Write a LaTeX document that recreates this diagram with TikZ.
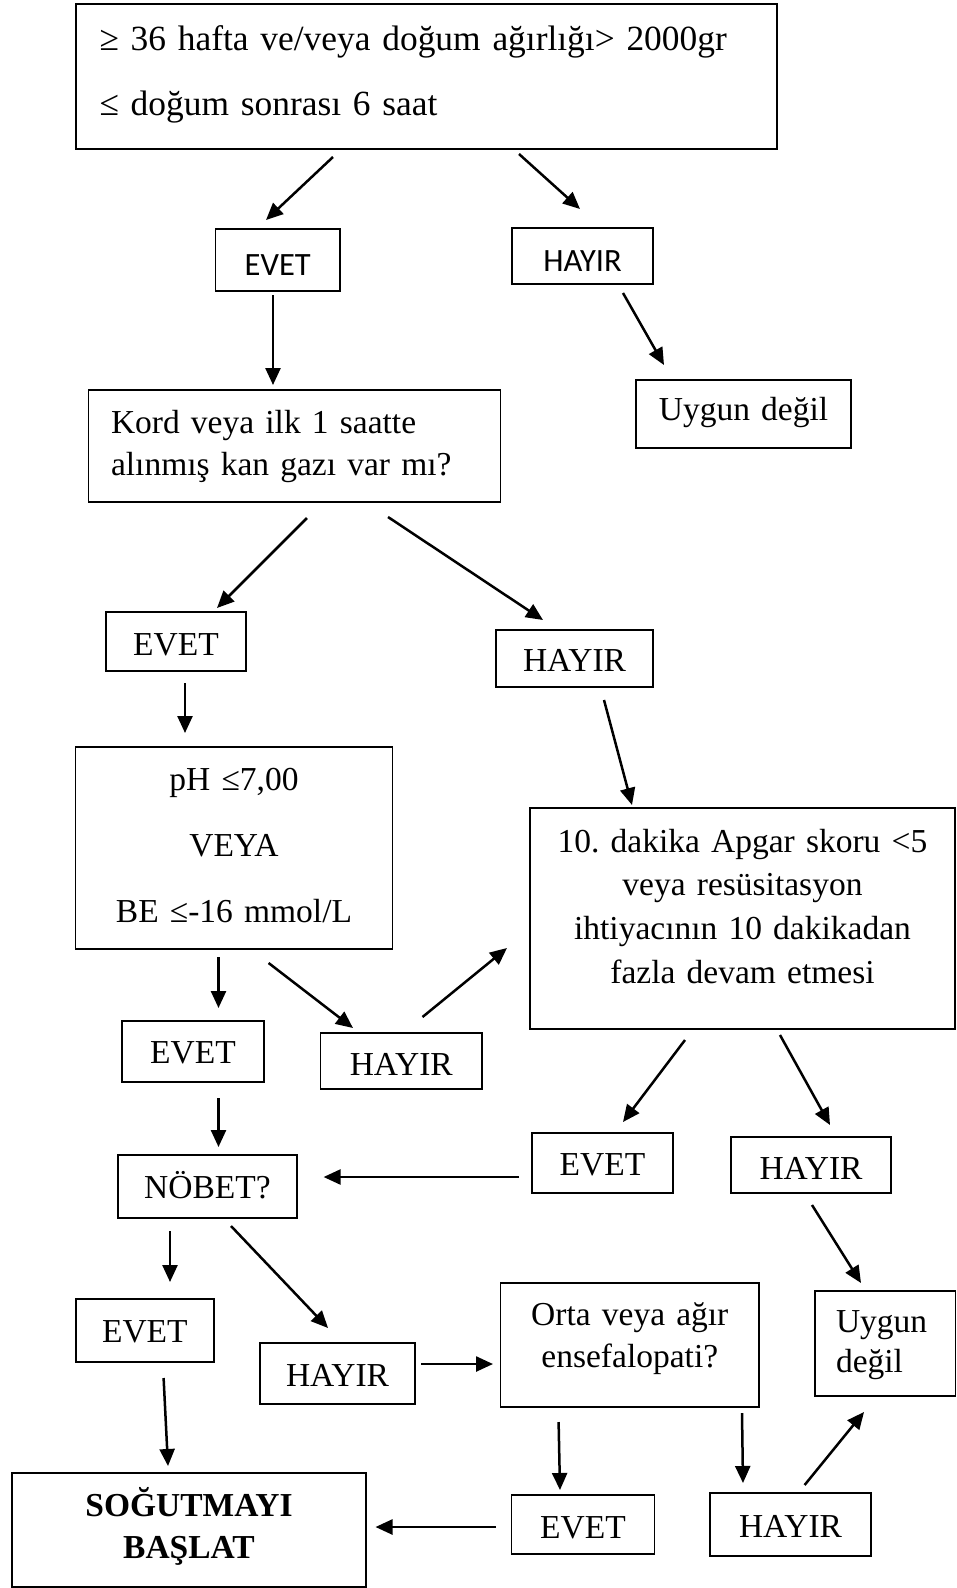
\documentclass[tikz,border=0pt]{standalone}
\usepackage{fontspec}
\setmainfont{Liberation Serif}
\newfontfamily\calfont{Carlito}
\usetikzlibrary{arrows.meta}
\frenchspacing

% invisible struts that fix the first baseline and the space under the last line
\newcommand\strutup[1]{\rule{0pt}{#1pt}}
\newcommand\strutdn[1]{\rule[-#1pt]{0pt}{#1pt}}

\tikzset{
  flowbox/.style={draw, line width=1.7pt, inner sep=0pt, align=center,
    font=\fontsize{33.5}{43}\selectfont},
  sansbox/.style={flowbox, font=\calfont\fontsize{32.5}{40}\selectfont},
  conn/.style={line width=2.5pt, -{Triangle[length=17pt,width=15pt]}}
}

\begin{document}
\begin{tikzpicture}[x=1pt,y=-1pt]
\useasboundingbox[fill=white] (0,0) rectangle (957,1588);

% ---- boxes ----
\node[flowbox, align=left, inner xsep=23.5pt, text width=654pt,
      font=\fontsize{35.4}{65}\selectfont] (top) at (426.5,76.5)
  {\strutup{46}≥ 36 hafta ve/veya doğum ağırlığı> 2000gr\\≤ doğum sonrası 6 saat\strutdn{34}};

\node[sansbox, text width=124.5pt] (evetA) at (277.75,260) {\strutup{46}EVET\strutdn{16}};
\node[sansbox, text width=141pt] (hayirA) at (582.5,256) {\strutup{43}HAYIR\strutdn{13}};

\node[flowbox, align=left, inner xsep=22.5pt, text width=367pt,
      font=\fontsize{33.5}{42}\selectfont] (kord) at (294.5,446)
  {\strutup{43}Kord veya ilk 1 saatte\\alınmış kan gazı var mı?\strutdn{27}};
\node[flowbox, text width=215pt] (uygunA) at (743.5,414) {\strutup{40}Uygun değil\strutdn{28}};

\node[flowbox, text width=140pt] (evetB) at (176,641.5) {\strutup{43}EVET\strutdn{16}};
\node[flowbox, text width=157pt] (hayirB) at (574.5,658.5) {\strutup{41}HAYIR\strutdn{16}};

\node[flowbox, text width=317pt, font=\fontsize{33.5}{66}\selectfont] (ph) at (234,848)
  {\strutup{43}pH ≤7,00\\VEYA\\BE ≤-16 mmol/L\strutdn{27}};
\node[flowbox, text width=425pt, font=\fontsize{33.5}{43.67}\selectfont] (apgar) at (742.5,918.5)
  {\strutup{44}10. dakika Apgar skoru <5\\veya resüsitasyon\\ihtiyacının 10 dakikadan\\fazla devam etmesi\strutdn{46}};

\node[flowbox, text width=142pt] (evetC) at (193,1051.5) {\strutup{42}EVET\strutdn{19}};
\node[flowbox, text width=161.5pt] (hayirC) at (401.25,1061) {\strutup{42}HAYIR\strutdn{14}};

\node[flowbox, text width=141pt] (evetD) at (602.5,1163) {\strutup{42}EVET\strutdn{18}};
\node[flowbox, text width=160pt] (hayirD) at (811,1165) {\strutup{42}HAYIR\strutdn{14}};

\node[flowbox, text width=179pt] (nobet) at (207.5,1186.5) {\strutup{43}NÖBET?\strutdn{20}};

\node[flowbox, text width=138.3pt] (evetE) at (144.85,1330.5) {\strutup{43}EVET\strutdn{20}};
\node[flowbox, text width=155pt] (hayirE) at (337.5,1373.5) {\strutup{43}HAYIR\strutdn{18}};

\node[flowbox, text width=258.4pt, font=\fontsize{33.5}{42}\selectfont] (orta) at (629.8,1345)
  {\strutup{42}Orta veya ağır\\ensefalopati?\strutdn{40}};
\node[flowbox, align=left, inner xsep=21pt, text width=98.5pt,
      font=\fontsize{33.5}{40}\selectfont] (uygunB) at (885.25,1343.5)
  {\strutup{41}Uygun\\değil\strutdn{24}};

\node[flowbox, text width=354pt, font=\bfseries\fontsize{33.5}{42}\selectfont] (sogut) at (189,1530)
  {\strutup{43}SOĞUTMAYI\\BAŞLAT\strutdn{29}};
\node[flowbox, text width=143pt] (evetF) at (583,1524.5) {\strutup{43}EVET\strutdn{16}};
\node[flowbox, text width=161pt] (hayirF) at (790.5,1524.5) {\strutup{44}HAYIR\strutdn{19}};

% ---- connector end points (arrows stand clear of the boxes) ----
\coordinate (c1s) at (333,157);     \coordinate (c1e) at (266,220);
\coordinate (c2s) at (519,154);     \coordinate (c2e) at (580,209);
\coordinate (c3s) at (273,295);     \coordinate (c3e) at (273,385);
\coordinate (c4s) at (623,293);     \coordinate (c4e) at (664,365);
\coordinate (c5s) at (307,518);     \coordinate (c5e) at (217,608);
\coordinate (c6s) at (388,517);     \coordinate (c6e) at (543,620);
\coordinate (c7s) at (185,683);     \coordinate (c7e) at (185,733);
\coordinate (c8s) at (604,700);     \coordinate (c8e) at (632,805);
\coordinate (c9s) at (218.5,957);   \coordinate (c9e) at (218.5,1008);
\coordinate (c10s) at (268.6,963);  \coordinate (c10e) at (353,1028);
\coordinate (c11s) at (422.5,1017); \coordinate (c11e) at (507,948);
\coordinate (c12s) at (218.5,1098); \coordinate (c12e) at (218.5,1147);
\coordinate (c13s) at (685,1040);   \coordinate (c13e) at (623,1122);
\coordinate (c14s) at (780,1035);   \coordinate (c14e) at (830,1125);
\coordinate (c15s) at (519,1177);   \coordinate (c15e) at (323.6,1177);
\coordinate (c16s) at (170,1231);   \coordinate (c16e) at (170,1282);
\coordinate (c17s) at (231,1226);   \coordinate (c17e) at (328,1328);
\coordinate (c18s) at (812,1205);   \coordinate (c18e) at (861,1283);
\coordinate (c19s) at (421,1364);   \coordinate (c19e) at (493,1364);
\coordinate (c20s) at (163.6,1378); \coordinate (c20e) at (168,1466);
\coordinate (c21s) at (558.6,1422); \coordinate (c21e) at (560,1490);
\coordinate (c22s) at (742,1413);   \coordinate (c22e) at (743,1483);
\coordinate (c23s) at (496,1527);   \coordinate (c23e) at (375.5,1527);
\coordinate (c24s) at (804.6,1485); \coordinate (c24e) at (864,1412);

% ---- connectors ----
\foreach \i in {1,...,24}
  \draw[conn] (c\i s) -- (c\i e);
\end{tikzpicture}
\end{document}
